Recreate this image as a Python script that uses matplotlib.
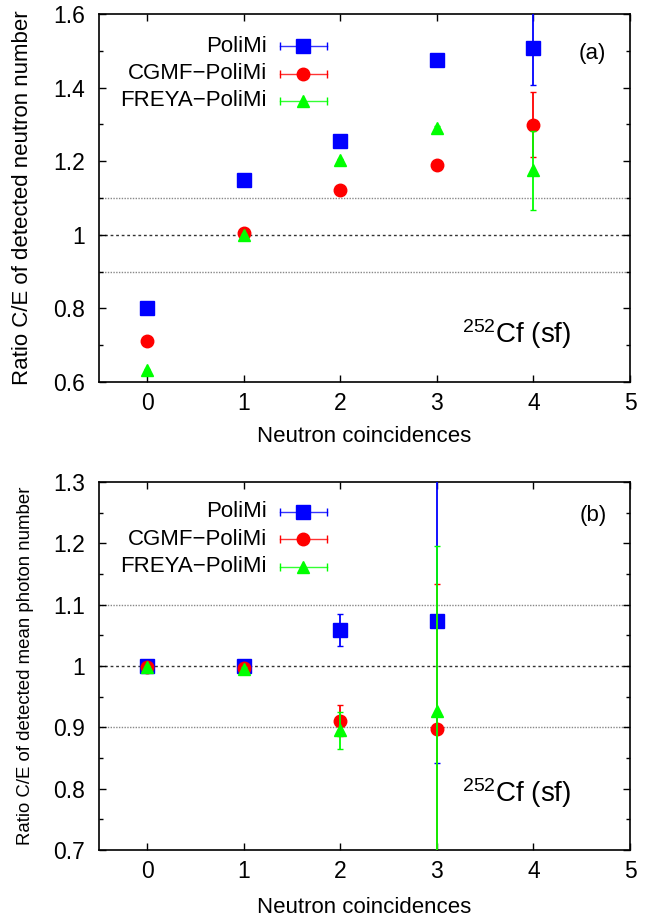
import matplotlib
matplotlib.use('Agg')
import matplotlib.pyplot as plt
import numpy as np

plt.rcParams['font.family'] = ['Liberation Sans', 'DejaVu Sans']
plt.rcParams['mathtext.fontset'] = 'custom'
plt.rcParams['mathtext.rm'] = 'Liberation Sans'
plt.rcParams['mathtext.it'] = 'Liberation Sans'

# neutron coincidences
x = [0, 1, 2, 3, 4]
x_b = [0, 1, 2, 3]

# (a) ratio C/E of detected neutron number
poli_a = [0.80, 1.149, 1.255, 1.475, 1.508]
poli_a_err = [0.003, 0.003, 0.004, 0.006, 0.10]
cgmf_a = [0.71, 1.005, 1.122, 1.190, 1.299]
cgmf_a_err = [0.003, 0.003, 0.004, 0.005, 0.088]
freya_a = [0.632, 1.0, 1.202, 1.291, 1.175]
freya_a_err = [0.003, 0.003, 0.004, 0.006, 0.108]

# (b) ratio C/E of detected mean photon number
poli_b = [1.0, 1.0, 1.059, 1.073]
poli_b_err = [0.002, 0.003, 0.026, 0.231]
cgmf_b = [0.998, 0.996, 0.911, 0.898]
cgmf_b_err = [0.002, 0.003, 0.025, 0.236]
freya_b = [0.998, 0.995, 0.895, 0.927]
freya_b_err = [0.002, 0.003, 0.030, 0.268]

labels = ['PoliMi', 'CGMF\u2212PoliMi', 'FREYA\u2212PoliMi']
colors = ['#0000ff', '#ff0000', '#00ff00']
markers = ['s', 'o', '^']
msizes = [9.5, 9, 9]


def draw(ax, xs, series, errs, ylim, major, minor, tag, tag_y, ylabel, ylfs, ylx, xly, leg_y, cf_y):
    for v in [0.9, 1.1]:
        ax.axhline(v, color='#888888', lw=1.0, ls=(0, (1, 1)), zorder=1)
    ax.axhline(1.0, color='#333333', lw=1.0, ls=(0, (2, 2)), zorder=1)
    for i in range(3):
        ax.errorbar(xs, series[i], yerr=errs[i], fmt=markers[i], color=colors[i],
                    ms=msizes[i], mec=colors[i], elinewidth=1.3, capsize=2.5,
                    capthick=1.0, ecolor=colors[i], zorder=3 + i)
    ax.set_xlim(-0.5, 5)
    ax.set_ylim(*ylim)
    ax.set_xticks([0, 1, 2, 3, 4, 5])
    yt = np.arange(ylim[0], ylim[1] + 1e-9, major)
    ax.set_yticks(yt)
    ax.set_yticks(np.arange(ylim[0], ylim[1] + 1e-9, minor), minor=True)
    ax.set_yticklabels(['%g' % round(t, 2) for t in yt])
    ax.tick_params(direction='in', top=True, right=True, labelsize=16.5, length=5, width=1)
    ax.tick_params(axis='x', pad=7)
    ax.tick_params(axis='y', pad=10)
    ax.tick_params(which='minor', direction='in', right=True, length=3, width=1)
    for s in ax.spines.values():
        s.set_linewidth(1.2)
    ax.set_xlabel('Neutron coincidences', fontsize=16)
    ax.xaxis.set_label_coords(0.5, xly)
    ax.set_ylabel(ylabel, fontsize=ylfs)
    ax.yaxis.set_label_coords(ylx, 0.5)

    # gnuplot style key: text right aligned, sample to the right
    for i in range(3):
        yy = leg_y[i]
        ax.text(0.316, yy, labels[i], transform=ax.transAxes, ha='right', va='center', fontsize=16)
        ax.plot([0.341, 0.43], [yy, yy], transform=ax.transAxes, color=colors[i], lw=1.0, alpha=0.8)
        ax.plot([0.341, 0.43], [yy, yy], transform=ax.transAxes, ls='none', marker='|',
                ms=6, mew=1.0, color=colors[i])
        ax.plot([0.385], [yy], transform=ax.transAxes, ls='none', marker=markers[i],
                ms=msizes[i], color=colors[i])

    ax.text(0.93, tag_y, tag, transform=ax.transAxes, ha='center', va='center', fontsize=16)
    ax.text(0.683, cf_y, r'$^{252}$Cf (sf)', transform=ax.transAxes,
            ha='left', va='baseline', fontsize=20)


fig = plt.figure(figsize=(6.5, 9.16), dpi=100)
ax1 = fig.add_axes([0.1523, 0.583, 0.8169, 0.4017])
ax2 = fig.add_axes([0.1523, 0.0721, 0.8169, 0.4017])

draw(ax1, x, [poli_a, cgmf_a, freya_a], [poli_a_err, cgmf_a_err, freya_a_err],
     (0.6, 1.6), 0.2, 0.1, '(a)', 0.892, 'Ratio C/E of detected neutron number', 16, -0.125, -0.12,
     [0.913, 0.837, 0.764], 0.106)
draw(ax2, x_b, [poli_b, cgmf_b, freya_b], [poli_b_err, cgmf_b_err, freya_b_err],
     (0.7, 1.3), 0.1, 0.05, '(b)', 0.91, 'Ratio C/E of detected mean photon number', 13.4, -0.122, -0.127,
     [0.919, 0.844, 0.770], 0.130)

fig.savefig('out.png', dpi=100)
